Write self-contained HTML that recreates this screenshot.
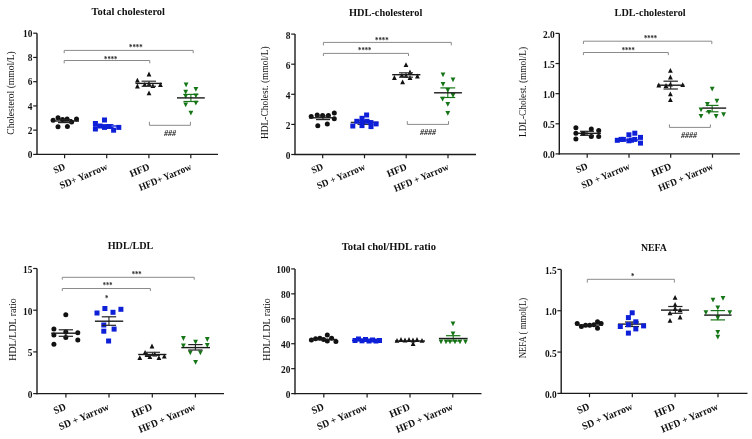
<!DOCTYPE html>
<html><head><meta charset="utf-8"><title>Lipid profile</title>
<style>
html,body{margin:0;padding:0;background:#fff;}
body{width:752px;height:439px;overflow:hidden;}
svg{display:block;font-family:"Liberation Serif",serif;will-change:transform;}
</style></head><body>
<svg width="752" height="439" viewBox="0 0 752 439">
<rect width="752" height="439" fill="#fff"/>
<line x1="37" y1="33.2" x2="37" y2="155" stroke="#1c1c1c" stroke-width="1.4"/>
<line x1="36.3" y1="154.4" x2="218" y2="154.4" stroke="#1c1c1c" stroke-width="1.4"/>
<line x1="33.2" y1="154.4" x2="37" y2="154.4" stroke="#1c1c1c" stroke-width="1.2"/>
<text x="32.4" y="158.1" font-size="9.4" font-weight="bold" text-anchor="end" fill="#111">0</text>
<line x1="33.2" y1="130.16" x2="37" y2="130.16" stroke="#1c1c1c" stroke-width="1.2"/>
<text x="32.4" y="133.86" font-size="9.4" font-weight="bold" text-anchor="end" fill="#111">2</text>
<line x1="33.2" y1="105.92" x2="37" y2="105.92" stroke="#1c1c1c" stroke-width="1.2"/>
<text x="32.4" y="109.62" font-size="9.4" font-weight="bold" text-anchor="end" fill="#111">4</text>
<line x1="33.2" y1="81.68" x2="37" y2="81.68" stroke="#1c1c1c" stroke-width="1.2"/>
<text x="32.4" y="85.38" font-size="9.4" font-weight="bold" text-anchor="end" fill="#111">6</text>
<line x1="33.2" y1="57.44" x2="37" y2="57.44" stroke="#1c1c1c" stroke-width="1.2"/>
<text x="32.4" y="61.14" font-size="9.4" font-weight="bold" text-anchor="end" fill="#111">8</text>
<line x1="33.2" y1="33.2" x2="37" y2="33.2" stroke="#1c1c1c" stroke-width="1.2"/>
<text x="32.4" y="36.9" font-size="9.4" font-weight="bold" text-anchor="end" fill="#111">10</text>
<line x1="64.6" y1="154.4" x2="64.6" y2="158.2" stroke="#1c1c1c" stroke-width="1.2"/>
<text x="66" y="169.1" font-size="9.98" font-weight="bold" text-anchor="end" textLength="11.96" lengthAdjust="spacingAndGlyphs" fill="#111" transform="rotate(-23 66 169.1)">SD</text>
<line x1="106.7" y1="154.4" x2="106.7" y2="158.2" stroke="#1c1c1c" stroke-width="1.2"/>
<text x="108.1" y="169.1" font-size="9.98" font-weight="bold" text-anchor="end" textLength="50.96" lengthAdjust="spacingAndGlyphs" fill="#111" transform="rotate(-23 108.1 169.1)">SD+ Yarrow</text>
<line x1="148.9" y1="154.4" x2="148.9" y2="158.2" stroke="#1c1c1c" stroke-width="1.2"/>
<text x="150.3" y="169.1" font-size="9.98" font-weight="bold" text-anchor="end" textLength="20.8" lengthAdjust="spacingAndGlyphs" fill="#111" transform="rotate(-23 150.3 169.1)">HFD</text>
<line x1="190.8" y1="154.4" x2="190.8" y2="158.2" stroke="#1c1c1c" stroke-width="1.2"/>
<text x="192.2" y="169.1" font-size="9.98" font-weight="bold" text-anchor="end" textLength="56.16" lengthAdjust="spacingAndGlyphs" fill="#111" transform="rotate(-23 192.2 169.1)">HFD+ Yarrow</text>
<text x="91.6" y="15.2" font-size="11.2" font-weight="bold" textLength="73.4" lengthAdjust="spacingAndGlyphs" fill="#111">Total cholesterol</text>
<text x="14.2" y="93" font-size="9.6" text-anchor="middle" textLength="83.4" lengthAdjust="spacingAndGlyphs" fill="#111" transform="rotate(-90 14.2 93)">Cholesterol (mmol/L)</text>
<path d="M64.2 53.2V50.4H193.2V53.2" stroke="#8a8a8a" stroke-width="1" fill="none"/>
<path d="M64.2 63.3V60.5H149.8V63.3" stroke="#8a8a8a" stroke-width="1" fill="none"/>
<path d="M149.4 121.8V125.3H190.4V121.8" stroke="#8a8a8a" stroke-width="1" fill="none"/>
<text x="135.8" y="50.3" font-size="8.5" font-weight="bold" text-anchor="middle" textLength="13.6" lengthAdjust="spacingAndGlyphs" fill="#222">****</text>
<text x="110.7" y="62" font-size="8.5" font-weight="bold" text-anchor="middle" textLength="13.2" lengthAdjust="spacingAndGlyphs" fill="#222">****</text>
<text x="170" y="136.2" font-size="8.2" font-weight="bold" text-anchor="middle" textLength="12" lengthAdjust="spacingAndGlyphs" fill="#1a1a1a" font-style="italic">###</text>
<circle cx="53.1" cy="120.3" r="2.5" fill="#111"/>
<circle cx="58" cy="117.7" r="2.5" fill="#111"/>
<circle cx="62.5" cy="119.4" r="2.5" fill="#111"/>
<circle cx="67.1" cy="119.1" r="2.5" fill="#111"/>
<circle cx="71.6" cy="122" r="2.5" fill="#111"/>
<circle cx="76.5" cy="119.1" r="2.5" fill="#111"/>
<circle cx="58" cy="126.8" r="2.5" fill="#111"/>
<circle cx="67.4" cy="126.5" r="2.5" fill="#111"/>
<line x1="65" y1="119.6" x2="65" y2="122.6" stroke="#222" stroke-width="1.1"/>
<line x1="58" y1="119.6" x2="72" y2="119.6" stroke="#222" stroke-width="1.2"/>
<line x1="58" y1="122.6" x2="72" y2="122.6" stroke="#222" stroke-width="1.2"/>
<line x1="51.7" y1="121" x2="79" y2="121" stroke="#1a1a1a" stroke-width="1.4"/>
<line x1="106.5" y1="124.7" x2="106.5" y2="127.5" stroke="#0e1fd8" stroke-width="1.1"/>
<line x1="99.5" y1="124.7" x2="113.5" y2="124.7" stroke="#0e1fd8" stroke-width="1.2"/>
<line x1="99.5" y1="127.5" x2="113.5" y2="127.5" stroke="#0e1fd8" stroke-width="1.2"/>
<line x1="93" y1="126" x2="119" y2="126" stroke="#0e1fd8" stroke-width="1.4"/>
<rect x="92.9" y="121" width="5" height="5" fill="#0e1fd8"/>
<rect x="92.9" y="126.5" width="5" height="5" fill="#0e1fd8"/>
<rect x="102" y="117.5" width="5" height="5" fill="#0e1fd8"/>
<rect x="102" y="124.9" width="5" height="5" fill="#0e1fd8"/>
<rect x="97.5" y="123.5" width="5" height="5" fill="#0e1fd8"/>
<rect x="106.5" y="124" width="5" height="5" fill="#0e1fd8"/>
<rect x="111.1" y="127.7" width="5" height="5" fill="#0e1fd8"/>
<rect x="116.3" y="124.9" width="5" height="5" fill="#0e1fd8"/>
<path d="M149 71.62L151.4 76.42L146.6 76.42Z" fill="#111"/>
<path d="M137.4 77.72L139.8 82.52L135 82.52Z" fill="#111"/>
<path d="M137.4 83.62L139.8 88.42L135 88.42Z" fill="#111"/>
<path d="M144.7 81.92L147.1 86.72L142.3 86.72Z" fill="#111"/>
<path d="M149.1 81.52L151.5 86.32L146.7 86.32Z" fill="#111"/>
<path d="M152.9 83.22L155.3 88.02L150.5 88.02Z" fill="#111"/>
<path d="M160.4 82.22L162.8 87.02L158 87.02Z" fill="#111"/>
<path d="M149 90.42L151.4 95.22L146.6 95.22Z" fill="#111"/>
<line x1="148.8" y1="81.2" x2="148.8" y2="86.3" stroke="#333" stroke-width="1.1"/>
<line x1="141.6" y1="81.2" x2="156" y2="81.2" stroke="#333" stroke-width="1.2"/>
<line x1="141.6" y1="86.3" x2="156" y2="86.3" stroke="#333" stroke-width="1.2"/>
<line x1="135.5" y1="83.4" x2="162" y2="83.4" stroke="#1a1a1a" stroke-width="1.4"/>
<path d="M186.1 87.28L188.5 82.48L183.7 82.48Z" fill="#167516"/>
<path d="M195.9 91.78L198.3 86.98L193.5 86.98Z" fill="#167516"/>
<path d="M185.7 94.58L188.1 89.78L183.3 89.78Z" fill="#167516"/>
<path d="M185.7 98.68L188.1 93.88L183.3 93.88Z" fill="#167516"/>
<path d="M195.9 98.18L198.3 93.38L193.5 93.38Z" fill="#167516"/>
<path d="M185.7 107.28L188.1 102.48L183.3 102.48Z" fill="#167516"/>
<path d="M195.9 105.48L198.3 100.68L193.5 100.68Z" fill="#167516"/>
<path d="M190.9 115.48L193.3 110.68L188.5 110.68Z" fill="#167516"/>
<line x1="190.9" y1="94.4" x2="190.9" y2="101.5" stroke="#167516" stroke-width="1.1"/>
<line x1="183.4" y1="94.4" x2="198.4" y2="94.4" stroke="#167516" stroke-width="1.2"/>
<line x1="183.4" y1="101.5" x2="198.4" y2="101.5" stroke="#167516" stroke-width="1.2"/>
<line x1="177" y1="97.9" x2="204.8" y2="97.9" stroke="#1a1a1a" stroke-width="1.4"/>
<line x1="295" y1="34.1" x2="295" y2="155.1" stroke="#1c1c1c" stroke-width="1.4"/>
<line x1="294.3" y1="154.5" x2="476" y2="154.5" stroke="#1c1c1c" stroke-width="1.4"/>
<line x1="291.2" y1="154.5" x2="295" y2="154.5" stroke="#1c1c1c" stroke-width="1.2"/>
<text x="290.4" y="158.9" font-size="9.4" font-weight="bold" text-anchor="end" fill="#111">0</text>
<line x1="291.2" y1="124.4" x2="295" y2="124.4" stroke="#1c1c1c" stroke-width="1.2"/>
<text x="290.4" y="128.8" font-size="9.4" font-weight="bold" text-anchor="end" fill="#111">2</text>
<line x1="291.2" y1="94.3" x2="295" y2="94.3" stroke="#1c1c1c" stroke-width="1.2"/>
<text x="290.4" y="98.7" font-size="9.4" font-weight="bold" text-anchor="end" fill="#111">4</text>
<line x1="291.2" y1="64.2" x2="295" y2="64.2" stroke="#1c1c1c" stroke-width="1.2"/>
<text x="290.4" y="68.6" font-size="9.4" font-weight="bold" text-anchor="end" fill="#111">6</text>
<line x1="291.2" y1="34.1" x2="295" y2="34.1" stroke="#1c1c1c" stroke-width="1.2"/>
<text x="290.4" y="38.5" font-size="9.4" font-weight="bold" text-anchor="end" fill="#111">8</text>
<line x1="322.7" y1="154.5" x2="322.7" y2="158.3" stroke="#1c1c1c" stroke-width="1.2"/>
<text x="324.1" y="169.2" font-size="9.98" font-weight="bold" text-anchor="end" textLength="11.96" lengthAdjust="spacingAndGlyphs" fill="#111" transform="rotate(-23 324.1 169.2)">SD</text>
<line x1="364.5" y1="154.5" x2="364.5" y2="158.3" stroke="#1c1c1c" stroke-width="1.2"/>
<text x="365.9" y="169.2" font-size="9.98" font-weight="bold" text-anchor="end" textLength="51.48" lengthAdjust="spacingAndGlyphs" fill="#111" transform="rotate(-23 365.9 169.2)">SD + Yarrow</text>
<line x1="406.2" y1="154.5" x2="406.2" y2="158.3" stroke="#1c1c1c" stroke-width="1.2"/>
<text x="407.6" y="169.2" font-size="9.98" font-weight="bold" text-anchor="end" textLength="20.8" lengthAdjust="spacingAndGlyphs" fill="#111" transform="rotate(-23 407.6 169.2)">HFD</text>
<line x1="448" y1="154.5" x2="448" y2="158.3" stroke="#1c1c1c" stroke-width="1.2"/>
<text x="449.4" y="169.2" font-size="9.98" font-weight="bold" text-anchor="end" textLength="58.55" lengthAdjust="spacingAndGlyphs" fill="#111" transform="rotate(-23 449.4 169.2)">HFD + Yarrow</text>
<text x="349" y="15.8" font-size="11.2" font-weight="bold" textLength="73.3" lengthAdjust="spacingAndGlyphs" fill="#111">HDL-cholesterol</text>
<text x="268.2" y="92.7" font-size="9.6" text-anchor="middle" textLength="92.6" lengthAdjust="spacingAndGlyphs" fill="#111" transform="rotate(-90 268.2 92.7)">HDL-Cholest. (mmol/L)</text>
<path d="M323.4 45.4V42.4H451.3V45.4" stroke="#8a8a8a" stroke-width="1" fill="none"/>
<path d="M323.4 56V53.4H408.5V56" stroke="#8a8a8a" stroke-width="1" fill="none"/>
<path d="M407.3 121.2V124.4H448.5V121.2" stroke="#8a8a8a" stroke-width="1" fill="none"/>
<text x="381.8" y="42.7" font-size="8.5" font-weight="bold" text-anchor="middle" textLength="13.6" lengthAdjust="spacingAndGlyphs" fill="#222">****</text>
<text x="364.7" y="53.1" font-size="8.5" font-weight="bold" text-anchor="middle" textLength="13.2" lengthAdjust="spacingAndGlyphs" fill="#222">****</text>
<text x="428" y="135.2" font-size="8.2" font-weight="bold" text-anchor="middle" textLength="16" lengthAdjust="spacingAndGlyphs" fill="#1a1a1a" font-style="italic">####</text>
<circle cx="311.2" cy="116.5" r="2.5" fill="#111"/>
<circle cx="317.2" cy="115.1" r="2.5" fill="#111"/>
<circle cx="322.6" cy="115.6" r="2.5" fill="#111"/>
<circle cx="328.4" cy="115.6" r="2.5" fill="#111"/>
<circle cx="334.3" cy="113" r="2.5" fill="#111"/>
<circle cx="334.3" cy="118.8" r="2.5" fill="#111"/>
<circle cx="317.8" cy="125.7" r="2.5" fill="#111"/>
<circle cx="327.3" cy="124.1" r="2.5" fill="#111"/>
<line x1="323" y1="116" x2="323" y2="119.6" stroke="#222" stroke-width="1.1"/>
<line x1="316" y1="116" x2="330" y2="116" stroke="#222" stroke-width="1.2"/>
<line x1="316" y1="119.6" x2="330" y2="119.6" stroke="#222" stroke-width="1.2"/>
<line x1="309.3" y1="117.8" x2="335.9" y2="117.8" stroke="#1a1a1a" stroke-width="1.4"/>
<line x1="364.5" y1="120.8" x2="364.5" y2="124.4" stroke="#333" stroke-width="1.1"/>
<line x1="357.5" y1="120.8" x2="371.5" y2="120.8" stroke="#333" stroke-width="1.2"/>
<line x1="357.5" y1="124.4" x2="371.5" y2="124.4" stroke="#333" stroke-width="1.2"/>
<line x1="350.7" y1="122.4" x2="378.4" y2="122.4" stroke="#333" stroke-width="1.4"/>
<rect x="364.1" y="112.5" width="5" height="5" fill="#0e1fd8"/>
<rect x="359.5" y="115.8" width="5" height="5" fill="#0e1fd8"/>
<rect x="354.3" y="118.8" width="5" height="5" fill="#0e1fd8"/>
<rect x="359.5" y="119.3" width="5" height="5" fill="#0e1fd8"/>
<rect x="364.5" y="118.8" width="5" height="5" fill="#0e1fd8"/>
<rect x="350.3" y="123.5" width="5" height="5" fill="#0e1fd8"/>
<rect x="359.5" y="123.1" width="5" height="5" fill="#0e1fd8"/>
<rect x="368.5" y="124.1" width="5" height="5" fill="#0e1fd8"/>
<rect x="373.6" y="121.4" width="5" height="5" fill="#0e1fd8"/>
<rect x="368.5" y="120.1" width="5" height="5" fill="#0e1fd8"/>
<path d="M406 62.22L408.4 67.02L403.6 67.02Z" fill="#111"/>
<path d="M394.4 75.12L396.8 79.92L392 79.92Z" fill="#111"/>
<path d="M401.9 72.82L404.3 77.62L399.5 77.62Z" fill="#111"/>
<path d="M410 69.62L412.4 74.42L407.6 74.42Z" fill="#111"/>
<path d="M410 75.12L412.4 79.92L407.6 79.92Z" fill="#111"/>
<path d="M417.4 73.62L419.8 78.42L415 78.42Z" fill="#111"/>
<path d="M402.6 79.52L405 84.32L400.2 84.32Z" fill="#111"/>
<path d="M406 73.12L408.4 77.92L403.6 77.92Z" fill="#111"/>
<line x1="406" y1="72.8" x2="406" y2="77.2" stroke="#333" stroke-width="1.1"/>
<line x1="399" y1="72.8" x2="413" y2="72.8" stroke="#333" stroke-width="1.2"/>
<line x1="399" y1="77.2" x2="413" y2="77.2" stroke="#333" stroke-width="1.2"/>
<line x1="392.2" y1="74.7" x2="420.4" y2="74.7" stroke="#1a1a1a" stroke-width="1.4"/>
<path d="M443 77.18L445.4 72.38L440.6 72.38Z" fill="#167516"/>
<path d="M453 82.28L455.4 77.48L450.6 77.48Z" fill="#167516"/>
<path d="M443 86.78L445.4 81.98L440.6 81.98Z" fill="#167516"/>
<path d="M447.8 92.68L450.2 87.88L445.4 87.88Z" fill="#167516"/>
<path d="M453 97.88L455.4 93.08L450.6 93.08Z" fill="#167516"/>
<path d="M442.6 101.58L445 96.78L440.2 96.78Z" fill="#167516"/>
<path d="M447.8 106.78L450.2 101.98L445.4 101.98Z" fill="#167516"/>
<path d="M447.8 115.68L450.2 110.88L445.4 110.88Z" fill="#167516"/>
<line x1="447.8" y1="87.9" x2="447.8" y2="97.5" stroke="#167516" stroke-width="1.1"/>
<line x1="440.4" y1="87.9" x2="455.2" y2="87.9" stroke="#167516" stroke-width="1.2"/>
<line x1="440.4" y1="97.5" x2="455.2" y2="97.5" stroke="#167516" stroke-width="1.2"/>
<line x1="434.1" y1="92.8" x2="461.9" y2="92.8" stroke="#1a1a1a" stroke-width="1.4"/>
<line x1="559.3" y1="33.4" x2="559.3" y2="154.5" stroke="#1c1c1c" stroke-width="1.4"/>
<line x1="558.6" y1="153.9" x2="739.9" y2="153.9" stroke="#1c1c1c" stroke-width="1.4"/>
<line x1="555.5" y1="153.9" x2="559.3" y2="153.9" stroke="#1c1c1c" stroke-width="1.2"/>
<text x="554.7" y="158.2" font-size="9.4" font-weight="bold" text-anchor="end" fill="#111">0.0</text>
<line x1="555.5" y1="123.78" x2="559.3" y2="123.78" stroke="#1c1c1c" stroke-width="1.2"/>
<text x="554.7" y="128.08" font-size="9.4" font-weight="bold" text-anchor="end" fill="#111">0.5</text>
<line x1="555.5" y1="93.65" x2="559.3" y2="93.65" stroke="#1c1c1c" stroke-width="1.2"/>
<text x="554.7" y="97.95" font-size="9.4" font-weight="bold" text-anchor="end" fill="#111">1.0</text>
<line x1="555.5" y1="63.53" x2="559.3" y2="63.53" stroke="#1c1c1c" stroke-width="1.2"/>
<text x="554.7" y="67.83" font-size="9.4" font-weight="bold" text-anchor="end" fill="#111">1.5</text>
<line x1="555.5" y1="33.4" x2="559.3" y2="33.4" stroke="#1c1c1c" stroke-width="1.2"/>
<text x="554.7" y="37.7" font-size="9.4" font-weight="bold" text-anchor="end" fill="#111">2.0</text>
<line x1="587.2" y1="153.9" x2="587.2" y2="157.7" stroke="#1c1c1c" stroke-width="1.2"/>
<text x="588.6" y="168.6" font-size="9.98" font-weight="bold" text-anchor="end" textLength="11.96" lengthAdjust="spacingAndGlyphs" fill="#111" transform="rotate(-23 588.6 168.6)">SD</text>
<line x1="629" y1="153.9" x2="629" y2="157.7" stroke="#1c1c1c" stroke-width="1.2"/>
<text x="630.4" y="168.6" font-size="9.98" font-weight="bold" text-anchor="end" textLength="51.48" lengthAdjust="spacingAndGlyphs" fill="#111" transform="rotate(-23 630.4 168.6)">SD + Yarrow</text>
<line x1="670.7" y1="153.9" x2="670.7" y2="157.7" stroke="#1c1c1c" stroke-width="1.2"/>
<text x="672.1" y="168.6" font-size="9.98" font-weight="bold" text-anchor="end" textLength="20.8" lengthAdjust="spacingAndGlyphs" fill="#111" transform="rotate(-23 672.1 168.6)">HFD</text>
<line x1="712.5" y1="153.9" x2="712.5" y2="157.7" stroke="#1c1c1c" stroke-width="1.2"/>
<text x="713.9" y="168.6" font-size="9.98" font-weight="bold" text-anchor="end" textLength="58.55" lengthAdjust="spacingAndGlyphs" fill="#111" transform="rotate(-23 713.9 168.6)">HFD + Yarrow</text>
<text x="614.6" y="15.6" font-size="11.2" font-weight="bold" textLength="71" lengthAdjust="spacingAndGlyphs" fill="#111">LDL-cholesterol</text>
<text x="525.6" y="92" font-size="9.6" text-anchor="middle" textLength="90" lengthAdjust="spacingAndGlyphs" fill="#111" transform="rotate(-90 525.6 92)">LDL-Cholest. (mmol/L)</text>
<path d="M583.4 44V41.2H711.8V44" stroke="#8a8a8a" stroke-width="1" fill="none"/>
<path d="M583.4 55.1V52.5H668.3V55.1" stroke="#8a8a8a" stroke-width="1" fill="none"/>
<path d="M669.4 124.4V127.4H710.4V124.4" stroke="#8a8a8a" stroke-width="1" fill="none"/>
<text x="650.5" y="41" font-size="8.5" font-weight="bold" text-anchor="middle" textLength="13.2" lengthAdjust="spacingAndGlyphs" fill="#222">****</text>
<text x="628.2" y="52.5" font-size="8.5" font-weight="bold" text-anchor="middle" textLength="13" lengthAdjust="spacingAndGlyphs" fill="#222">****</text>
<text x="689" y="137.7" font-size="8.2" font-weight="bold" text-anchor="middle" textLength="16" lengthAdjust="spacingAndGlyphs" fill="#1a1a1a" font-style="italic">####</text>
<circle cx="575.9" cy="127.7" r="2.5" fill="#111"/>
<circle cx="575.9" cy="133.3" r="2.5" fill="#111"/>
<circle cx="575.9" cy="138.9" r="2.5" fill="#111"/>
<circle cx="583.3" cy="133.6" r="2.5" fill="#111"/>
<circle cx="591.3" cy="129" r="2.5" fill="#111"/>
<circle cx="591.3" cy="136.5" r="2.5" fill="#111"/>
<circle cx="598.7" cy="130.6" r="2.5" fill="#111"/>
<circle cx="598.7" cy="136.5" r="2.5" fill="#111"/>
<line x1="587" y1="131.3" x2="587" y2="135.3" stroke="#222" stroke-width="1.1"/>
<line x1="580" y1="131.3" x2="594" y2="131.3" stroke="#222" stroke-width="1.2"/>
<line x1="580" y1="135.3" x2="594" y2="135.3" stroke="#222" stroke-width="1.2"/>
<line x1="577.4" y1="133.3" x2="600.9" y2="133.3" stroke="#1a1a1a" stroke-width="1.4"/>
<line x1="616" y1="140" x2="638" y2="140" stroke="#0e1fd8" stroke-width="1.4"/>
<rect x="614.8" y="137.8" width="5" height="5" fill="#0e1fd8"/>
<rect x="618.6" y="136.9" width="5" height="5" fill="#0e1fd8"/>
<rect x="620.9" y="136.9" width="5" height="5" fill="#0e1fd8"/>
<rect x="626.4" y="132.3" width="5" height="5" fill="#0e1fd8"/>
<rect x="626.4" y="138.3" width="5" height="5" fill="#0e1fd8"/>
<rect x="632.3" y="130.7" width="5" height="5" fill="#0e1fd8"/>
<rect x="632.3" y="136.9" width="5" height="5" fill="#0e1fd8"/>
<rect x="638" y="134.9" width="5" height="5" fill="#0e1fd8"/>
<rect x="638" y="140.6" width="5" height="5" fill="#0e1fd8"/>
<rect x="629" y="137.7" width="5" height="5" fill="#0e1fd8"/>
<path d="M670.4 67.92L672.8 72.72L668 72.72Z" fill="#111"/>
<path d="M670.4 74.62L672.8 79.42L668 79.42Z" fill="#111"/>
<path d="M658.8 82.62L661.2 87.42L656.4 87.42Z" fill="#111"/>
<path d="M670.4 81.82L672.8 86.62L668 86.62Z" fill="#111"/>
<path d="M682.7 82.32L685.1 87.12L680.3 87.12Z" fill="#111"/>
<path d="M670.4 91.42L672.8 96.22L668 96.22Z" fill="#111"/>
<path d="M670.4 97.32L672.8 102.12L668 102.12Z" fill="#111"/>
<path d="M666 83.12L668.4 87.92L663.6 87.92Z" fill="#111"/>
<line x1="670.7" y1="81.2" x2="670.7" y2="89" stroke="#222" stroke-width="1.1"/>
<line x1="663.5" y1="81.2" x2="677.9" y2="81.2" stroke="#222" stroke-width="1.2"/>
<line x1="663.5" y1="89" x2="677.9" y2="89" stroke="#222" stroke-width="1.2"/>
<line x1="657.2" y1="85.2" x2="684.3" y2="85.2" stroke="#1a1a1a" stroke-width="1.4"/>
<path d="M712.2 91.58L714.6 86.78L709.8 86.78Z" fill="#167516"/>
<path d="M716.9 103.48L719.3 98.68L714.5 98.68Z" fill="#167516"/>
<path d="M707.4 106.68L709.8 101.88L705 101.88Z" fill="#167516"/>
<path d="M701 112.28L703.4 107.48L698.6 107.48Z" fill="#167516"/>
<path d="M709 114.68L711.4 109.88L706.6 109.88Z" fill="#167516"/>
<path d="M701 118.68L703.4 113.88L698.6 113.88Z" fill="#167516"/>
<path d="M716.1 118.68L718.5 113.88L713.7 113.88Z" fill="#167516"/>
<path d="M723.6 117.08L726 112.28L721.2 112.28Z" fill="#167516"/>
<line x1="712.15" y1="105.4" x2="712.15" y2="111.8" stroke="#167516" stroke-width="1.1"/>
<line x1="705.8" y1="105.4" x2="718.5" y2="105.4" stroke="#167516" stroke-width="1.2"/>
<line x1="705.8" y1="111.8" x2="718.5" y2="111.8" stroke="#167516" stroke-width="1.2"/>
<line x1="702.6" y1="108.1" x2="726.2" y2="108.1" stroke="#1a1a1a" stroke-width="1.4"/>
<line x1="37" y1="268.5" x2="37" y2="394.2" stroke="#1c1c1c" stroke-width="1.4"/>
<line x1="36.3" y1="393.6" x2="224" y2="393.6" stroke="#1c1c1c" stroke-width="1.4"/>
<line x1="33.2" y1="393.6" x2="37" y2="393.6" stroke="#1c1c1c" stroke-width="1.2"/>
<text x="32.4" y="398" font-size="9.4" font-weight="bold" text-anchor="end" fill="#111">0</text>
<line x1="33.2" y1="351.9" x2="37" y2="351.9" stroke="#1c1c1c" stroke-width="1.2"/>
<text x="32.4" y="356.3" font-size="9.4" font-weight="bold" text-anchor="end" fill="#111">5</text>
<line x1="33.2" y1="310.2" x2="37" y2="310.2" stroke="#1c1c1c" stroke-width="1.2"/>
<text x="32.4" y="314.6" font-size="9.4" font-weight="bold" text-anchor="end" fill="#111">10</text>
<line x1="33.2" y1="268.5" x2="37" y2="268.5" stroke="#1c1c1c" stroke-width="1.2"/>
<text x="32.4" y="272.9" font-size="9.4" font-weight="bold" text-anchor="end" fill="#111">15</text>
<line x1="65.9" y1="393.6" x2="65.9" y2="397.4" stroke="#1c1c1c" stroke-width="1.2"/>
<text x="66.7" y="409.3" font-size="10.37" font-weight="bold" text-anchor="end" textLength="12.42" lengthAdjust="spacingAndGlyphs" fill="#111" transform="rotate(-23 66.7 409.3)">SD</text>
<line x1="109" y1="393.6" x2="109" y2="397.4" stroke="#1c1c1c" stroke-width="1.2"/>
<text x="109.8" y="409.3" font-size="10.37" font-weight="bold" text-anchor="end" textLength="53.46" lengthAdjust="spacingAndGlyphs" fill="#111" transform="rotate(-23 109.8 409.3)">SD + Yarrow</text>
<line x1="152.3" y1="393.6" x2="152.3" y2="397.4" stroke="#1c1c1c" stroke-width="1.2"/>
<text x="153.1" y="409.3" font-size="10.37" font-weight="bold" text-anchor="end" textLength="21.6" lengthAdjust="spacingAndGlyphs" fill="#111" transform="rotate(-23 153.1 409.3)">HFD</text>
<line x1="195.4" y1="393.6" x2="195.4" y2="397.4" stroke="#1c1c1c" stroke-width="1.2"/>
<text x="196.2" y="409.3" font-size="10.37" font-weight="bold" text-anchor="end" textLength="60.8" lengthAdjust="spacingAndGlyphs" fill="#111" transform="rotate(-23 196.2 409.3)">HFD + Yarrow</text>
<text x="107.7" y="248.8" font-size="11.2" font-weight="bold" textLength="45.7" lengthAdjust="spacingAndGlyphs" fill="#111">HDL/LDL</text>
<text x="16.4" y="329.45" font-size="9.6" text-anchor="middle" textLength="62.5" lengthAdjust="spacingAndGlyphs" fill="#111" transform="rotate(-90 16.4 329.45)">HDL/LDL ratio</text>
<path d="M62.3 279.7V277.3H194.2V279.7" stroke="#8a8a8a" stroke-width="1" fill="none"/>
<path d="M62.3 291V288.5H150.4V291" stroke="#8a8a8a" stroke-width="1" fill="none"/>
<text x="136.7" y="277" font-size="8.5" font-weight="bold" text-anchor="middle" textLength="10" lengthAdjust="spacingAndGlyphs" fill="#222">***</text>
<text x="107.6" y="288" font-size="8.5" font-weight="bold" text-anchor="middle" textLength="9.6" lengthAdjust="spacingAndGlyphs" fill="#222">***</text>
<text x="106.7" y="300.5" font-size="8.5" font-weight="bold" text-anchor="middle" textLength="3.4" lengthAdjust="spacingAndGlyphs" fill="#222">*</text>
<circle cx="65.8" cy="314.8" r="2.5" fill="#111"/>
<circle cx="53.9" cy="329.1" r="2.5" fill="#111"/>
<circle cx="53.9" cy="334.9" r="2.5" fill="#111"/>
<circle cx="53.9" cy="344.2" r="2.5" fill="#111"/>
<circle cx="65.8" cy="332.1" r="2.5" fill="#111"/>
<circle cx="65.8" cy="337.6" r="2.5" fill="#111"/>
<circle cx="77.8" cy="332.8" r="2.5" fill="#111"/>
<circle cx="77.8" cy="340.1" r="2.5" fill="#111"/>
<line x1="65.85" y1="329.8" x2="65.85" y2="336.3" stroke="#222" stroke-width="1.1"/>
<line x1="58.7" y1="329.8" x2="73" y2="329.8" stroke="#222" stroke-width="1.2"/>
<line x1="58.7" y1="336.3" x2="73" y2="336.3" stroke="#222" stroke-width="1.2"/>
<line x1="51.2" y1="333.2" x2="79.9" y2="333.2" stroke="#1a1a1a" stroke-width="1.4"/>
<rect x="94.5" y="310.5" width="5" height="5" fill="#0e1fd8"/>
<rect x="102.4" y="306" width="5" height="5" fill="#0e1fd8"/>
<rect x="110.5" y="309.8" width="5" height="5" fill="#0e1fd8"/>
<rect x="118.4" y="306.8" width="5" height="5" fill="#0e1fd8"/>
<rect x="101.3" y="322.5" width="5" height="5" fill="#0e1fd8"/>
<rect x="111.6" y="326.6" width="5" height="5" fill="#0e1fd8"/>
<rect x="101.3" y="328.7" width="5" height="5" fill="#0e1fd8"/>
<rect x="106.1" y="338.5" width="5" height="5" fill="#0e1fd8"/>
<line x1="108.95" y1="316.8" x2="108.95" y2="325.3" stroke="#222" stroke-width="1.1"/>
<line x1="101.8" y1="316.8" x2="116.1" y2="316.8" stroke="#222" stroke-width="1.2"/>
<line x1="101.8" y1="325.3" x2="116.1" y2="325.3" stroke="#222" stroke-width="1.2"/>
<line x1="94.9" y1="321.2" x2="123.2" y2="321.2" stroke="#1a1a1a" stroke-width="1.4"/>
<path d="M152 343.62L154.4 348.42L149.6 348.42Z" fill="#111"/>
<path d="M139.8 355.32L142.2 360.12L137.4 360.12Z" fill="#111"/>
<path d="M145.1 350.02L147.5 354.82L142.7 354.82Z" fill="#111"/>
<path d="M149.9 354.22L152.3 359.02L147.5 359.02Z" fill="#111"/>
<path d="M154.7 351.62L157.1 356.42L152.3 356.42Z" fill="#111"/>
<path d="M158.9 355.32L161.3 360.12L156.5 360.12Z" fill="#111"/>
<path d="M164.3 353.72L166.7 358.52L161.9 358.52Z" fill="#111"/>
<path d="M147 352.12L149.4 356.92L144.6 356.92Z" fill="#111"/>
<line x1="152.5" y1="352.3" x2="152.5" y2="355.5" stroke="#333" stroke-width="1.1"/>
<line x1="145" y1="352.3" x2="160" y2="352.3" stroke="#333" stroke-width="1.2"/>
<line x1="145" y1="355.5" x2="160" y2="355.5" stroke="#333" stroke-width="1.2"/>
<line x1="138.2" y1="354.5" x2="166.4" y2="354.5" stroke="#1a1a1a" stroke-width="1.4"/>
<path d="M183.4 340.88L185.8 336.08L181 336.08Z" fill="#167516"/>
<path d="M195.6 344.58L198 339.78L193.2 339.78Z" fill="#167516"/>
<path d="M207.3 341.88L209.7 337.08L204.9 337.08Z" fill="#167516"/>
<path d="M183.4 348.28L185.8 343.48L181 343.48Z" fill="#167516"/>
<path d="M207.3 347.78L209.7 342.98L204.9 342.98Z" fill="#167516"/>
<path d="M190.3 355.18L192.7 350.38L187.9 350.38Z" fill="#167516"/>
<path d="M200.4 355.18L202.8 350.38L198 350.38Z" fill="#167516"/>
<path d="M195.6 364.78L198 359.98L193.2 359.98Z" fill="#167516"/>
<line x1="195.4" y1="344.6" x2="195.4" y2="350" stroke="#222" stroke-width="1.1"/>
<line x1="188.2" y1="344.6" x2="202.6" y2="344.6" stroke="#222" stroke-width="1.2"/>
<line x1="188.2" y1="350" x2="202.6" y2="350" stroke="#222" stroke-width="1.2"/>
<line x1="181.3" y1="347.6" x2="210" y2="347.6" stroke="#1a1a1a" stroke-width="1.4"/>
<line x1="295" y1="268.9" x2="295" y2="394.2" stroke="#1c1c1c" stroke-width="1.4"/>
<line x1="294.3" y1="393.6" x2="481.5" y2="393.6" stroke="#1c1c1c" stroke-width="1.4"/>
<line x1="291.2" y1="393.6" x2="295" y2="393.6" stroke="#1c1c1c" stroke-width="1.2"/>
<text x="290.4" y="398" font-size="9.4" font-weight="bold" text-anchor="end" fill="#111">0</text>
<line x1="291.2" y1="368.66" x2="295" y2="368.66" stroke="#1c1c1c" stroke-width="1.2"/>
<text x="290.4" y="373.06" font-size="9.4" font-weight="bold" text-anchor="end" fill="#111">20</text>
<line x1="291.2" y1="343.72" x2="295" y2="343.72" stroke="#1c1c1c" stroke-width="1.2"/>
<text x="290.4" y="348.12" font-size="9.4" font-weight="bold" text-anchor="end" fill="#111">40</text>
<line x1="291.2" y1="318.78" x2="295" y2="318.78" stroke="#1c1c1c" stroke-width="1.2"/>
<text x="290.4" y="323.18" font-size="9.4" font-weight="bold" text-anchor="end" fill="#111">60</text>
<line x1="291.2" y1="293.84" x2="295" y2="293.84" stroke="#1c1c1c" stroke-width="1.2"/>
<text x="290.4" y="298.24" font-size="9.4" font-weight="bold" text-anchor="end" fill="#111">80</text>
<line x1="291.2" y1="268.9" x2="295" y2="268.9" stroke="#1c1c1c" stroke-width="1.2"/>
<text x="290.4" y="273.3" font-size="9.4" font-weight="bold" text-anchor="end" fill="#111">100</text>
<line x1="323.8" y1="393.6" x2="323.8" y2="397.4" stroke="#1c1c1c" stroke-width="1.2"/>
<text x="324.6" y="409.3" font-size="10.37" font-weight="bold" text-anchor="end" textLength="12.42" lengthAdjust="spacingAndGlyphs" fill="#111" transform="rotate(-23 324.6 409.3)">SD</text>
<line x1="367.1" y1="393.6" x2="367.1" y2="397.4" stroke="#1c1c1c" stroke-width="1.2"/>
<text x="367.9" y="409.3" font-size="10.37" font-weight="bold" text-anchor="end" textLength="53.46" lengthAdjust="spacingAndGlyphs" fill="#111" transform="rotate(-23 367.9 409.3)">SD + Yarrow</text>
<line x1="410" y1="393.6" x2="410" y2="397.4" stroke="#1c1c1c" stroke-width="1.2"/>
<text x="410.8" y="409.3" font-size="10.37" font-weight="bold" text-anchor="end" textLength="21.6" lengthAdjust="spacingAndGlyphs" fill="#111" transform="rotate(-23 410.8 409.3)">HFD</text>
<line x1="452.8" y1="393.6" x2="452.8" y2="397.4" stroke="#1c1c1c" stroke-width="1.2"/>
<text x="453.6" y="409.3" font-size="10.37" font-weight="bold" text-anchor="end" textLength="60.8" lengthAdjust="spacingAndGlyphs" fill="#111" transform="rotate(-23 453.6 409.3)">HFD + Yarrow</text>
<text x="341.7" y="249.6" font-size="11.2" font-weight="bold" textLength="94.3" lengthAdjust="spacingAndGlyphs" fill="#111">Total chol/HDL ratio</text>
<text x="269.8" y="329.45" font-size="9.6" text-anchor="middle" textLength="62.5" lengthAdjust="spacingAndGlyphs" fill="#111" transform="rotate(-90 269.8 329.45)">HDL/LDL ratio</text>
<circle cx="311.4" cy="339.9" r="2.5" fill="#111"/>
<circle cx="315.6" cy="338.8" r="2.5" fill="#111"/>
<circle cx="319.9" cy="338.3" r="2.5" fill="#111"/>
<circle cx="323.6" cy="339.4" r="2.5" fill="#111"/>
<circle cx="327.3" cy="335.1" r="2.5" fill="#111"/>
<circle cx="327.3" cy="341" r="2.5" fill="#111"/>
<circle cx="331.6" cy="338.3" r="2.5" fill="#111"/>
<circle cx="335.9" cy="341.5" r="2.5" fill="#111"/>
<line x1="310" y1="339.5" x2="337" y2="339.5" stroke="#1a1a1a" stroke-width="1.4"/>
<line x1="352" y1="340.5" x2="382" y2="340.5" stroke="#0e1fd8" stroke-width="1.4"/>
<rect x="352.5" y="338" width="5" height="5" fill="#0e1fd8"/>
<rect x="356" y="336.5" width="5" height="5" fill="#0e1fd8"/>
<rect x="359.5" y="338.3" width="5" height="5" fill="#0e1fd8"/>
<rect x="363" y="337" width="5" height="5" fill="#0e1fd8"/>
<rect x="366.5" y="338.5" width="5" height="5" fill="#0e1fd8"/>
<rect x="370" y="337.5" width="5" height="5" fill="#0e1fd8"/>
<rect x="373.5" y="338.5" width="5" height="5" fill="#0e1fd8"/>
<rect x="377" y="338" width="5" height="5" fill="#0e1fd8"/>
<path d="M397 338.02L399.4 342.82L394.6 342.82Z" fill="#111"/>
<path d="M401 337.12L403.4 341.92L398.6 341.92Z" fill="#111"/>
<path d="M405 337.62L407.4 342.42L402.6 342.42Z" fill="#111"/>
<path d="M409 337.12L411.4 341.92L406.6 341.92Z" fill="#111"/>
<path d="M413.1 341.22L415.5 346.02L410.7 346.02Z" fill="#111"/>
<path d="M413 337.62L415.4 342.42L410.6 342.42Z" fill="#111"/>
<path d="M417 337.12L419.4 341.92L414.6 341.92Z" fill="#111"/>
<path d="M422 338.02L424.4 342.82L419.6 342.82Z" fill="#111"/>
<line x1="395" y1="341" x2="425" y2="341" stroke="#1a1a1a" stroke-width="1.4"/>
<path d="M453 326.28L455.4 321.48L450.6 321.48Z" fill="#167516"/>
<path d="M453 336.18L455.4 331.38L450.6 331.38Z" fill="#167516"/>
<path d="M441 344.28L443.4 339.48L438.6 339.48Z" fill="#167516"/>
<path d="M446 344.28L448.4 339.48L443.6 339.48Z" fill="#167516"/>
<path d="M450 344.28L452.4 339.48L447.6 339.48Z" fill="#167516"/>
<path d="M455 344.28L457.4 339.48L452.6 339.48Z" fill="#167516"/>
<path d="M460 344.28L462.4 339.48L457.6 339.48Z" fill="#167516"/>
<path d="M465.5 344.28L467.9 339.48L463.1 339.48Z" fill="#167516"/>
<line x1="453.2" y1="335.7" x2="453.2" y2="341" stroke="#167516" stroke-width="1.1"/>
<line x1="446" y1="335.7" x2="460.4" y2="335.7" stroke="#167516" stroke-width="1.2"/>
<line x1="446" y1="341" x2="460.4" y2="341" stroke="#167516" stroke-width="1.2"/>
<line x1="438.9" y1="338.5" x2="467.6" y2="338.5" stroke="#1a1a1a" stroke-width="1.4"/>
<line x1="561.2" y1="269.4" x2="561.2" y2="394" stroke="#1c1c1c" stroke-width="1.4"/>
<line x1="560.5" y1="393.4" x2="747.5" y2="393.4" stroke="#1c1c1c" stroke-width="1.4"/>
<line x1="557.4" y1="393.4" x2="561.2" y2="393.4" stroke="#1c1c1c" stroke-width="1.2"/>
<text x="556.6" y="397.9" font-size="9.4" font-weight="bold" text-anchor="end" fill="#111">0.0</text>
<line x1="557.4" y1="352.07" x2="561.2" y2="352.07" stroke="#1c1c1c" stroke-width="1.2"/>
<text x="556.6" y="356.57" font-size="9.4" font-weight="bold" text-anchor="end" fill="#111">0.5</text>
<line x1="557.4" y1="310.73" x2="561.2" y2="310.73" stroke="#1c1c1c" stroke-width="1.2"/>
<text x="556.6" y="315.23" font-size="9.4" font-weight="bold" text-anchor="end" fill="#111">1.0</text>
<line x1="557.4" y1="269.4" x2="561.2" y2="269.4" stroke="#1c1c1c" stroke-width="1.2"/>
<text x="556.6" y="273.9" font-size="9.4" font-weight="bold" text-anchor="end" fill="#111">1.5</text>
<line x1="589.5" y1="393.4" x2="589.5" y2="397.2" stroke="#1c1c1c" stroke-width="1.2"/>
<text x="590.3" y="409.1" font-size="10.37" font-weight="bold" text-anchor="end" textLength="12.42" lengthAdjust="spacingAndGlyphs" fill="#111" transform="rotate(-23 590.3 409.1)">SD</text>
<line x1="632.3" y1="393.4" x2="632.3" y2="397.2" stroke="#1c1c1c" stroke-width="1.2"/>
<text x="633.1" y="409.1" font-size="10.37" font-weight="bold" text-anchor="end" textLength="53.46" lengthAdjust="spacingAndGlyphs" fill="#111" transform="rotate(-23 633.1 409.1)">SD + Yarrow</text>
<line x1="675.1" y1="393.4" x2="675.1" y2="397.2" stroke="#1c1c1c" stroke-width="1.2"/>
<text x="675.9" y="409.1" font-size="10.37" font-weight="bold" text-anchor="end" textLength="21.6" lengthAdjust="spacingAndGlyphs" fill="#111" transform="rotate(-23 675.9 409.1)">HFD</text>
<line x1="718" y1="393.4" x2="718" y2="397.2" stroke="#1c1c1c" stroke-width="1.2"/>
<text x="718.8" y="409.1" font-size="10.37" font-weight="bold" text-anchor="end" textLength="60.8" lengthAdjust="spacingAndGlyphs" fill="#111" transform="rotate(-23 718.8 409.1)">HFD + Yarrow</text>
<text x="640.9" y="250.6" font-size="11.2" font-weight="bold" textLength="26" lengthAdjust="spacingAndGlyphs" fill="#111">NEFA</text>
<text x="526.3" y="328" font-size="9.6" text-anchor="middle" textLength="60.6" lengthAdjust="spacingAndGlyphs" fill="#111" transform="rotate(-90 526.3 328)">NEFA ( mmol(L)</text>
<path d="M587.3 282.6V279.3H674.4V282.6" stroke="#8a8a8a" stroke-width="1" fill="none"/>
<text x="632.7" y="279.3" font-size="8.5" font-weight="bold" text-anchor="middle" textLength="3.4" lengthAdjust="spacingAndGlyphs" fill="#222">*</text>
<circle cx="577.2" cy="323.5" r="2.5" fill="#111"/>
<circle cx="581.4" cy="326.5" r="2.5" fill="#111"/>
<circle cx="585.6" cy="325.3" r="2.5" fill="#111"/>
<circle cx="589.7" cy="325.3" r="2.5" fill="#111"/>
<circle cx="593.9" cy="324.7" r="2.5" fill="#111"/>
<circle cx="597.5" cy="328.3" r="2.5" fill="#111"/>
<circle cx="601.1" cy="323.5" r="2.5" fill="#111"/>
<circle cx="597.5" cy="321.8" r="2.5" fill="#111"/>
<line x1="576" y1="325" x2="603" y2="325" stroke="#1a1a1a" stroke-width="1.4"/>
<line x1="632" y1="322" x2="632" y2="326.5" stroke="#222" stroke-width="1.1"/>
<line x1="625" y1="322" x2="639" y2="322" stroke="#222" stroke-width="1.2"/>
<line x1="625" y1="326.5" x2="639" y2="326.5" stroke="#222" stroke-width="1.2"/>
<line x1="618" y1="324.1" x2="646" y2="324.1" stroke="#222" stroke-width="1.4"/>
<rect x="629.7" y="310.3" width="5" height="5" fill="#0e1fd8"/>
<rect x="625.9" y="315.1" width="5" height="5" fill="#0e1fd8"/>
<rect x="617.8" y="324" width="5" height="5" fill="#0e1fd8"/>
<rect x="625.9" y="322.2" width="5" height="5" fill="#0e1fd8"/>
<rect x="633.3" y="319.3" width="5" height="5" fill="#0e1fd8"/>
<rect x="633.3" y="326.4" width="5" height="5" fill="#0e1fd8"/>
<rect x="641.1" y="323.4" width="5" height="5" fill="#0e1fd8"/>
<rect x="625.9" y="330.6" width="5" height="5" fill="#0e1fd8"/>
<path d="M675.1 294.92L677.5 299.72L672.7 299.72Z" fill="#111"/>
<path d="M675.1 302.12L677.5 306.92L672.7 306.92Z" fill="#111"/>
<path d="M670 310.42L672.4 315.22L667.6 315.22Z" fill="#111"/>
<path d="M680.1 307.42L682.5 312.22L677.7 312.22Z" fill="#111"/>
<path d="M680.1 314.62L682.5 319.42L677.7 319.42Z" fill="#111"/>
<path d="M670 318.02L672.4 322.82L667.6 322.82Z" fill="#111"/>
<path d="M675.1 306.12L677.5 310.92L672.7 310.92Z" fill="#111"/>
<line x1="675.35" y1="306.5" x2="675.35" y2="313.3" stroke="#222" stroke-width="1.1"/>
<line x1="668.2" y1="306.5" x2="682.5" y2="306.5" stroke="#222" stroke-width="1.2"/>
<line x1="668.2" y1="313.3" x2="682.5" y2="313.3" stroke="#222" stroke-width="1.2"/>
<line x1="661" y1="310.1" x2="689.1" y2="310.1" stroke="#1a1a1a" stroke-width="1.4"/>
<path d="M713 302.48L715.4 297.68L710.6 297.68Z" fill="#167516"/>
<path d="M723 300.68L725.4 295.88L720.6 295.88Z" fill="#167516"/>
<path d="M717.8 310.28L720.2 305.48L715.4 305.48Z" fill="#167516"/>
<path d="M705.9 314.98L708.3 310.18L703.5 310.18Z" fill="#167516"/>
<path d="M729.8 314.98L732.2 310.18L727.4 310.18Z" fill="#167516"/>
<path d="M717.8 320.38L720.2 315.58L715.4 315.58Z" fill="#167516"/>
<path d="M717.8 334.78L720.2 329.98L715.4 329.98Z" fill="#167516"/>
<path d="M717.8 339.58L720.2 334.78L715.4 334.78Z" fill="#167516"/>
<line x1="717.8" y1="310.6" x2="717.8" y2="319.9" stroke="#167516" stroke-width="1.1"/>
<line x1="710.6" y1="310.6" x2="725" y2="310.6" stroke="#167516" stroke-width="1.2"/>
<line x1="710.6" y1="319.9" x2="725" y2="319.9" stroke="#167516" stroke-width="1.2"/>
<line x1="704.1" y1="315.1" x2="731.6" y2="315.1" stroke="#1a1a1a" stroke-width="1.4"/>
</svg>
</body></html>
